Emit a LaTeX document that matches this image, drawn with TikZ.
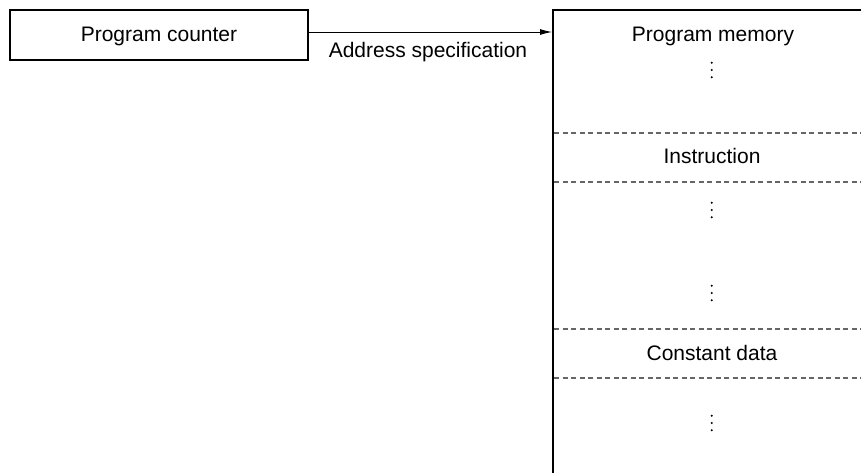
\documentclass[tikz,border=0pt]{standalone}
\usepackage{fontspec}
\setmainfont{Liberation Sans}
\usetikzlibrary{arrows.meta}
\begin{document}
\begin{tikzpicture}[x=1pt,y=-1pt,
  font=\fontsize{21}{25}\selectfont,
  boxline/.style={line width=2pt},
  sep/.style={draw=black!60, line width=1.1pt, dash pattern=on 5pt off 3.5pt},
  lbl/.style={inner sep=0pt, anchor=base},
  vdot/.style={fill=black, draw=none}]
\useasboundingbox (0,0) rectangle (861,472);
% program counter
\node[boxline, draw, minimum width=298pt, minimum height=50pt, inner sep=0pt] (pc) at (159,35) {};
\node[lbl] (pct) at (159,41.5) {Program counter};
% memory outline
\coordinate (mtl) at (553,10);
\coordinate (mtr) at (862,10);
\coordinate (mbl) at (553,473);
\draw[boxline] (mtr) -- (mtl) -- (mbl);
\coordinate (arrEnd) at (552,32);
\draw[line width=0.9pt, -{Latex[length=12pt,width=6pt]}] (pc.east |- arrEnd) -- (arrEnd);
\node[lbl] (addr) at (428,57) {Address specification};
% labels
\node[lbl] (pm) at (713,41.7) {Program memory};
\node[lbl] (ins) at (712,163.3) {Instruction};
\node[lbl] (cd) at (712,360) {Constant data};
% dashed separators
\coordinate (d1a) at (554,133); \coordinate (d1b) at (861,133);
\coordinate (d2a) at (554,182); \coordinate (d2b) at (861,182);
\coordinate (d3a) at (554,329); \coordinate (d3b) at (861,329);
\coordinate (d4a) at (554,378); \coordinate (d4b) at (861,378);
\draw[sep] (d1a) -- (d1b);
\draw[sep] (d2a) -- (d2b);
\draw[sep] (d3a) -- (d3b);
\draw[sep] (d4a) -- (d4b);
% vertical dots
\foreach \yc in {70,210,293,423}{
  \foreach \dd in {-7.2,0,7.2}{
    \fill[vdot] (711.7,\yc+\dd) circle (1.15pt);
  }
}
\end{tikzpicture}
\end{document}
